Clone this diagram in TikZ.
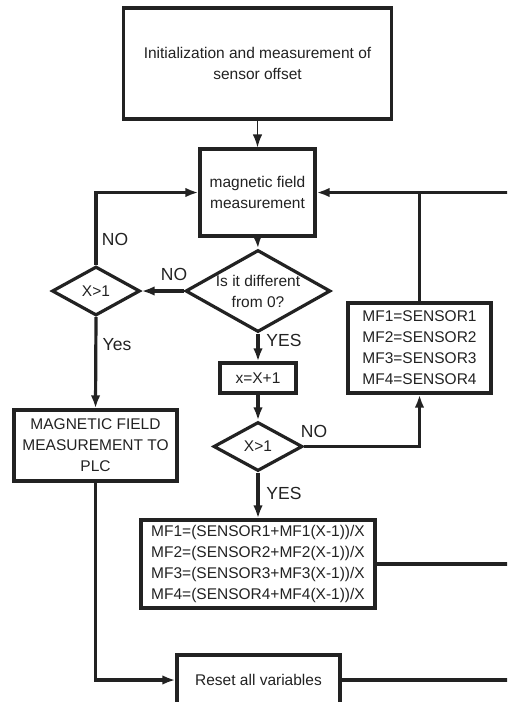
\documentclass[tikz,border=0pt]{standalone}
\usepackage{fontspec}
\setmainfont{Liberation Sans}
\usetikzlibrary{shapes.geometric, arrows.meta}
\definecolor{ink}{HTML}{222222}
\begin{document}
\begin{tikzpicture}[x=1pt, y=-1pt, >={Latex[length=13pt, width=9.5pt]},
    box/.style={rectangle, draw=ink, line width=3.2pt, fill=white, text=ink, align=center,
        inner sep=0pt, font=\fontsize{15.5}{21}\selectfont},
    dec/.style={diamond, draw=ink, line width=3.2pt, fill=white, text=ink, align=center,
        inner sep=0pt, font=\fontsize{15.5}{21}\selectfont},
    link/.style={->, draw=ink, line width=3.2pt},
    lab/.style={text=ink, font=\fontsize{17.5}{20}\selectfont}]
    % 1. Vùng hiển thị
    \useasboundingbox (0,0) rectangle (507,702);
    \clip (0,0) rectangle (507,702);

    % 2. Các khối xử lý
    \node[box, line width=3.8pt, minimum width=268, minimum height=111] (init) at (257.5,63.5)
        {Initialization and measurement of\\sensor offset};
    \node[box, minimum width=115, minimum height=87] (meas) at (257.5,192.5)
        {magnetic field\\measurement};
    \node[box, minimum width=163, minimum height=71] (plc) at (95.5,445.5)
        {MAGNETIC FIELD\\MEASUREMENT TO\\PLC};
    \node[box, minimum width=76, minimum height=30] (inc) at (258,378) {x=X+1};
    \node[box, minimum width=143, minimum height=90] (sens) at (419.5,348)
        {MF1=SENSOR1\\MF2=SENSOR2\\MF3=SENSOR3\\MF4=SENSOR4};
    \node[box, minimum width=234, minimum height=88] (avg) at (258,564)
        {MF1=(SENSOR1+MF1(X-1))/X\\MF2=(SENSOR2+MF2(X-1))/X\\
         MF3=(SENSOR3+MF3(X-1))/X\\MF4=(SENSOR4+MF4(X-1))/X};
    \node[box, minimum width=163, minimum height=50] (reset) at (258.5,680) {Reset all variables};

    % 3. Các khối điều kiện (hình thoi)
    \node[dec, aspect=1.77, minimum width=145, minimum height=82] (diff) at (258,291)
        {Is it different\\from 0?};
    \node[dec, aspect=1.8, minimum width=88, minimum height=49] (chka) at (96,291) {X>1};
    \node[dec, aspect=1.8, minimum width=89, minimum height=49] (chkb) at (258,446.5) {X>1};

    % 4. Các mũi tên nối
    \draw[->, draw=ink, line width=1.3pt] (init.south) -- (meas.north);
    \draw[link] (meas.south) -- (diff.north);
    \draw[link] (diff.west) -- (chka.east);
    \draw[link] (chka.north) |- (meas.west);
    \draw[link] (chka.south) -- (plc.north);
    \draw[link] (diff.south) -- (inc.north);
    \draw[link] (inc.south) -- (chkb.north);
    \draw[link] (chkb.east) -| (sens.south);
    \draw[link] (chkb.south) -- (avg.north);
    \draw[link] (plc.south) |- (reset.west);

    % 5. Đường hồi về bên phải (bị cắt ở mép hình)
    \coordinate (ra) at (512,192.5);
    \coordinate (rb) at (512,564);
    \coordinate (rc) at (512,680);
    \draw[link] (ra) -- (meas.east);
    \draw[draw=ink, line width=3.2pt] (sens.north) -- (sens.north |- ra);
    \draw[draw=ink, line width=3.2pt] (avg.east) -- (rb);
    \draw[draw=ink, line width=3.2pt] (reset.east) -- (rc);

    % 6. Nhãn YES / NO
    \node[lab] (noa) at (115,239) {NO};
    \node[lab] (nob) at (174,274) {NO};
    \node[lab] (yesa) at (117,345) {Yes};
    \node[lab] (yesb) at (284,340) {YES};
    \node[lab] (noc) at (314,431) {NO};
    \node[lab] (yesc) at (284,493) {YES};
\end{tikzpicture}
\end{document}
